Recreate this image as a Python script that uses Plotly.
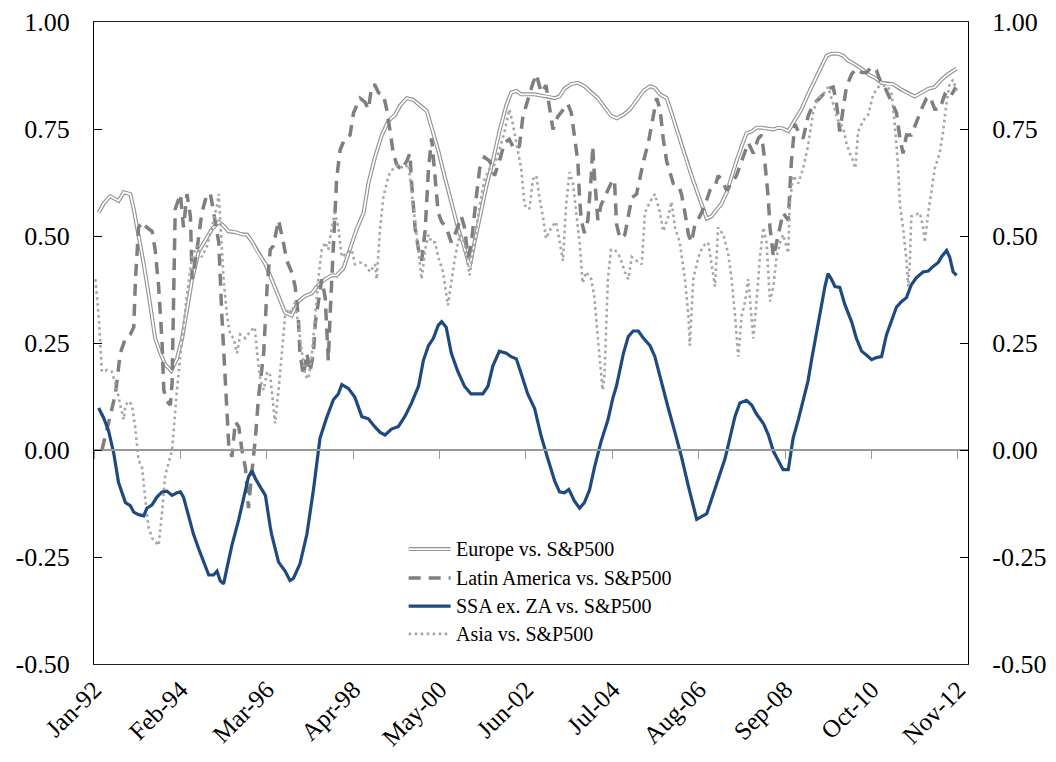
import plotly.graph_objects as go

# ---------------- data (month offsets from Jan-92, correlation values) ----------------
tick_months = [0, 25, 50, 75, 100, 125, 150, 175, 200, 225, 250]
tick_labels = ["Jan-92", "Feb-94", "Mar-96", "Apr-98", "May-00", "Jun-02",
               "Jul-04", "Aug-06", "Sep-08", "Oct-10", "Nov-12"]
y_tick_values = [-0.5, -0.25, 0.0, 0.25, 0.5, 0.75, 1.0]
y_tick_labels = ["-0.50", "-0.25", "0.00", "0.25", "0.50", "0.75", "1.00"]

europe_month = [1.35, 2.8, 4.7, 6.2, 7.1, 8.6, 10.5, 11.5, 12.9, 14.4, 15.8, 17.7, 19.2, 20.6, 22.3, 24, 25.5, 26.9,
                28.4, 30.3, 32.2, 34.1, 36.1, 37.5, 38.9, 40.9, 42.8, 44.3, 45.7, 47.6, 49.6, 51.4, 53.4, 55.3, 57.2,
                59.1, 61.1, 63, 64.9, 66.9, 68.8, 70.2, 72.2, 74.1, 76, 78, 79.4, 81.3, 83.3, 85.2, 87.1, 88.6, 90.5,
                92.4, 94.3, 96.3, 97.7, 99.6, 101.4, 103.4, 105.3, 107.2, 108.7, 110.1, 111.6, 113.5, 115.4, 117.3,
                119.3, 120.7, 122.2, 123.6, 125.5, 127.5, 129.4, 131.3, 133.3, 134.7, 136.1, 138.1, 140, 141.9, 143.9,
                145.8, 147.7, 149.6, 151.2, 153.2, 155.1, 157, 159, 160.9, 162.3, 163.8, 165.7, 167.1, 168.6, 170,
                171.5, 172.9, 174.4, 175.8, 177.3, 178.7, 180.2, 181.6, 183.1, 184.5, 185.9, 187.4, 188.8, 190.3,
                191.7, 193.2, 194.6, 196.6, 198, 199.4, 200.9, 202.8, 204.7, 206.6, 208.6, 210.5, 212, 213.4, 215.3,
                216.8, 218.2, 220.2, 222.1, 224, 225.9, 227.9, 229.8, 231.2, 233.2, 235.1, 237.5, 239.4, 241.4, 243.3,
                245.2, 247.1, 249.6]
europe_value = [0.554, 0.576, 0.593, 0.585, 0.582, 0.602, 0.598, 0.563, 0.503, 0.434, 0.364, 0.261, 0.226, 0.20,
                0.185, 0.213, 0.261, 0.33, 0.399, 0.464, 0.49, 0.516, 0.533, 0.524, 0.511, 0.509, 0.504, 0.503, 0.487,
                0.459, 0.434, 0.399, 0.356, 0.321, 0.314, 0.347, 0.36, 0.366, 0.386, 0.399, 0.408, 0.408, 0.425, 0.472,
                0.516, 0.554, 0.623, 0.684, 0.736, 0.769, 0.783, 0.805, 0.822, 0.818, 0.805, 0.792, 0.753, 0.70, 0.641,
                0.58, 0.52, 0.472, 0.429, 0.485, 0.546, 0.615, 0.675, 0.744, 0.805, 0.835, 0.839, 0.831, 0.831, 0.831,
                0.828, 0.826, 0.822, 0.826, 0.844, 0.855, 0.858, 0.85, 0.835, 0.822, 0.801, 0.781, 0.775, 0.783, 0.796,
                0.818, 0.839, 0.85, 0.846, 0.831, 0.822, 0.788, 0.749, 0.71, 0.675, 0.641, 0.606, 0.576, 0.541, 0.546,
                0.563, 0.576, 0.602, 0.641, 0.675, 0.71, 0.74, 0.744, 0.753, 0.753, 0.751, 0.749, 0.753, 0.751, 0.745,
                0.77, 0.796, 0.831, 0.865, 0.896, 0.921, 0.926, 0.926, 0.921, 0.91, 0.901, 0.891, 0.878, 0.87, 0.858,
                0.855, 0.855, 0.844, 0.835, 0.826, 0.835, 0.844, 0.848, 0.865, 0.878, 0.891]

latam_month = [2.3, 3.8, 4.7, 6.2, 7.6, 9.1, 10.5, 11.5, 12, 12.9, 13.9, 15.3, 16.8, 17.7, 18.7, 19.7, 20.2, 21.1, 22.1,
               22.6, 23.1, 23.5, 25, 25.9, 26.9, 27.9, 28.4, 29.8, 31.2, 32.7, 33.7, 34.6, 36.1, 37, 38, 39, 39.9,
               40.9, 41.9, 42.8, 43.8, 44.7, 45.7, 46.7, 47.6, 49.1, 50.1, 51, 51.9, 53.4, 54.8, 55.8, 57.2, 58.2,
               59.1, 59.6, 60.6, 61.6, 62.5, 63.5, 64, 64.9, 65.9, 66.9, 67.3, 67.8, 68.3, 69.3, 70.2, 71.2, 72.6,
               74.1, 75.1, 77, 78.4, 79.4, 80.4, 81.3, 82.3, 83.7, 84.7, 85.7, 86.6, 87.6, 89, 90.5, 91.4, 91.9, 92.9,
               93.9, 94.8, 95.8, 96.8, 97.7, 98.7, 99.6, 100.6, 101.9, 103.4, 104.8, 106.3, 107.2, 108.2, 109.1,
               110.6, 111.6, 113, 114.5, 115.9, 117.3, 118.8, 120.2, 121.7, 123.1, 124.1, 125.5, 127, 128, 129.4,
               130.8, 131.8, 132.8, 134.2, 135.7, 137.1, 138.1, 139, 140, 140.5, 141, 141.9, 142.9, 143.9, 144.3,
               144.8, 145.8, 146.7, 147.7, 148.7, 149.6, 150.6, 151.2, 152.2, 153.6, 154.6, 155.6, 157, 159, 160.4,
               161.8, 162.8, 163.8, 164.7, 165.7, 166.7, 167.6, 169.1, 170, 171, 172, 172.9, 173.9, 175.3, 176.8,
               178.2, 179.7, 180.6, 181.6, 183.1, 184.5, 185.9, 187.4, 188.4, 189.3, 190.8, 192.2, 193.2, 194.1,
               195.1, 195.6, 196.6, 197.5, 198.5, 199.4, 200.9, 201.8, 202.8, 203.8, 205.2, 206.6, 208.1, 209.5, 211,
               212.4, 213.9, 214.8, 215.8, 216.8, 217.7, 219.2, 220.6, 222.1, 223.5, 225, 226.4, 227.4, 228.8, 230.8,
               232.2, 233.2, 234.1, 235.1, 236.5, 238, 239.4, 240.9, 241.9, 243.3, 244.7, 246.2, 247.6, 249.1, 249.6]
latam_value = [0.0, 0.054, 0.08, 0.131, 0.226, 0.261, 0.27, 0.287, 0.399, 0.52, 0.533, 0.52, 0.511, 0.468, 0.382, 0.252,
               0.14, 0.114, 0.105, 0.157, 0.382, 0.563, 0.598, 0.52, 0.598, 0.546, 0.399, 0.468, 0.554, 0.598, 0.598,
               0.554, 0.485, 0.313, 0.14, 0.01, -0.016, 0.066, 0.054, 0.0, -0.041, -0.136, -0.05, 0.028, 0.123, 0.226,
               0.382, 0.468, 0.477, 0.537, 0.485, 0.442, 0.416, 0.382, 0.313, 0.226, 0.174, 0.226, 0.183, 0.226,
               0.295, 0.347, 0.399, 0.356, 0.287, 0.209, 0.313, 0.485, 0.632, 0.701, 0.728, 0.736, 0.788, 0.822,
               0.813, 0.796, 0.852, 0.852, 0.835, 0.831, 0.796, 0.744, 0.693, 0.667, 0.654, 0.675, 0.693, 0.623, 0.52,
               0.468, 0.442, 0.511, 0.658, 0.728, 0.623, 0.554, 0.533, 0.52, 0.485, 0.511, 0.546, 0.52, 0.451, 0.477,
               0.589, 0.658, 0.684, 0.675, 0.641, 0.675, 0.718, 0.726, 0.701, 0.71, 0.779, 0.818, 0.857, 0.878, 0.835,
               0.852, 0.805, 0.749, 0.779, 0.796, 0.809, 0.788, 0.728, 0.675, 0.589, 0.537, 0.507, 0.537, 0.641,
               0.71, 0.641, 0.537, 0.572, 0.589, 0.606, 0.623, 0.632, 0.528, 0.494, 0.503, 0.546, 0.589, 0.598, 0.675,
               0.718, 0.779, 0.822, 0.796, 0.728, 0.675, 0.645, 0.623, 0.619, 0.598, 0.554, 0.503, 0.485, 0.528,
               0.546, 0.572, 0.606, 0.615, 0.641, 0.632, 0.606, 0.623, 0.641, 0.675, 0.701, 0.718, 0.693, 0.728,
               0.736, 0.675, 0.589, 0.52, 0.451, 0.485, 0.52, 0.554, 0.537, 0.675, 0.762, 0.744, 0.728, 0.779, 0.809,
               0.818, 0.831, 0.844, 0.848, 0.813, 0.744, 0.796, 0.848, 0.878, 0.891, 0.882, 0.882, 0.895, 0.887,
               0.865, 0.848, 0.813, 0.788, 0.728, 0.693, 0.736, 0.736, 0.766, 0.796, 0.822, 0.826, 0.796, 0.796,
               0.831, 0.822, 0.844, 0.84]

ssa_month = [1.35, 2.8, 4.2, 5.7, 7.1, 9.1, 10.5, 11.5, 12.9, 14.4, 15.3, 16.8, 18.2, 19.7, 21.1, 22.6, 24, 25, 25.9,
             27.4, 28.8, 30.3, 31.7, 33.2, 34.6, 35.6, 36.5, 37.5, 38.5, 39.9, 41.9, 43.3, 44.7, 45.7, 46.7, 48.1,
             49.6, 51, 51.4, 53.4, 55.3, 56.7, 57.7, 59.6, 61.6, 63.5, 65.4, 67.3, 69.3, 70.7, 71.7, 73.6, 75.5, 77.5,
             79.4, 81.3, 82.8, 84.2, 86.1, 88.1, 90, 91.9, 93.9, 95.3, 96.8, 98.2, 99.6, 100.6, 101.9, 103.4, 105.3,
             107.2, 109.1, 111.1, 112.5, 114, 115.4, 117.3, 119.3, 120.7, 122.2, 123.6, 125.5, 127.5, 129.4, 131.3,
             133.3, 134.7, 136.1, 137.4, 139, 140.5, 141.9, 143.4, 144.8, 146.7, 148.7, 150.1, 151.2, 153.2, 154.6,
             156, 157.5, 159, 160.9, 162.3, 164.2, 166.2, 168.1, 170, 172, 174.4, 177.3, 179.2, 181.1, 182.6, 184,
             185.5, 186.9, 188.8, 190.3, 191.7, 193.7, 195.1, 196.6, 198, 199.4, 200.9, 202.3, 203.8, 205.2, 206.6,
             207.6, 209.1, 210.5, 211.5, 212.4, 213.4, 214.4, 215.8, 217.3, 219.2, 220.6, 222.1, 223.5, 225, 226.4,
             227.9, 229.3, 230.8, 232.2, 233.7, 235.1, 236.5, 238, 239.9, 241.4, 242.8, 244.3, 245.2, 246.7, 247.6,
             248.6, 249.6]
ssa_value = [0.098, 0.075, 0.045, -0.007, -0.076, -0.123, -0.13, -0.145, -0.151, -0.154, -0.136, -0.128, -0.11, -0.098,
             -0.096, -0.106, -0.1, -0.098, -0.11, -0.158, -0.197, -0.231, -0.262, -0.292, -0.292, -0.283, -0.305,
             -0.313, -0.275, -0.223, -0.162, -0.11, -0.063, -0.048, -0.067, -0.086, -0.106, -0.18, -0.197, -0.262,
             -0.283, -0.305, -0.30, -0.266, -0.197, -0.093, 0.028, 0.075, 0.118, 0.131, 0.153, 0.144, 0.123, 0.078,
             0.073, 0.054, 0.041, 0.035, 0.049, 0.055, 0.079, 0.11, 0.149, 0.209, 0.244, 0.261, 0.291, 0.30, 0.287,
             0.226, 0.183, 0.149, 0.131, 0.131, 0.131, 0.149, 0.196, 0.231, 0.226, 0.218, 0.213, 0.179, 0.131, 0.097,
             0.032, -0.02, -0.072, -0.098, -0.10, -0.092, -0.119, -0.136, -0.123, -0.093, -0.041, 0.019, 0.07, 0.12,
             0.15, 0.226, 0.265, 0.278, 0.278, 0.261, 0.244, 0.218, 0.157, 0.097, 0.041, -0.016, -0.085, -0.162,
             -0.149, -0.102, -0.059, -0.02, 0.028, 0.079, 0.11, 0.116, 0.105, 0.084, 0.062, 0.036, -0.003, -0.024,
             -0.046, -0.046, 0.028, 0.071, 0.114, 0.161, 0.209, 0.278, 0.339, 0.382, 0.412, 0.399, 0.382, 0.38, 0.339,
             0.30, 0.261, 0.231, 0.222, 0.211, 0.216, 0.218, 0.269, 0.30, 0.334, 0.347, 0.356, 0.386, 0.403, 0.416,
             0.418, 0.429, 0.438, 0.451, 0.466, 0.451, 0.416, 0.408]

asia_month = [0.4, 1.35, 2.3, 3.8, 5.2, 6.7, 7.6, 8.6, 9.1, 10.1, 11, 11.9, 12.9, 13.9, 14.9, 15.8, 16.8, 17.7, 18.7,
              19.7, 20.6, 22.6, 24, 25.5, 26.9, 28.4, 29.8, 31.2, 32.7, 34.1, 35.6, 36.1, 36.6, 37.5, 38.5, 39.4, 40.4,
              41.4, 42.3, 43.8, 45.2, 46.5, 47.2, 48.1, 49.1, 50.1, 51, 52.4, 53.4, 54.3, 55.3, 56.3, 57.2, 58.2,
              59.1, 60.1, 61.1, 62, 63, 64, 64.9, 65.9, 66.9, 67.8, 68.8, 69.7, 70.7, 71.7, 73.1, 74.6, 75.5, 77,
              78.4, 79.9, 81.3, 81.8, 82.8, 83.7, 85.2, 86.6, 88.1, 89.5, 91, 91.9, 92.9, 93.9, 94.8, 95.8, 96.8,
              97.7, 98.7, 99.6, 101, 102.4, 103.4, 104.3, 105.8, 107.2, 108.7, 110.1, 111.6, 113, 114.5, 115.9, 117.3,
              118.8, 120.2, 121.2, 122.6, 123.6, 124.6, 126, 127, 128, 128.9, 129.9, 130.8, 132.3, 133.7, 134.7,
              135.7, 136.6, 137.6, 138.6, 139.5, 140.5, 141.4, 142.4, 143.9, 144.8, 145.8, 146.7, 147.2, 147.7, 148.7,
              149.6, 150.7, 152.2, 153.6, 154.6, 155.6, 157, 158.5, 159.4, 160.9, 162.3, 163.8, 164.7, 166.2, 167.1,
              168.1, 169.5, 171, 172, 172.4, 173.4, 174.9, 176.3, 177.7, 178.7, 179.7, 180.6, 182.1, 183.5, 184.5,
              185.5, 186.4, 187.4, 188.4, 189.3, 190.3, 190.8, 191.7, 192.7, 193.7, 194.6, 195.6, 196.6, 197.5, 198.5,
              199.4, 200.9, 201.3, 202.3, 203.8, 205.2, 206.6, 208.1, 209.5, 211, 212.4, 213.9, 215.3, 216.8, 217.7,
              218.7, 219.7, 220.3, 221.1, 222.6, 224, 225.5, 226.9, 228.3, 229.8, 230.8, 231.7, 232.7, 233.2, 234.1,
              234.6, 235.1, 235.6, 236.1, 236.5, 238, 239, 239.9, 240.4, 241.4, 242.3, 243.3, 244.7, 245.7, 246.7,
              247.6, 248.6, 249.6]
asia_value = [0.399, 0.313, 0.183, 0.187, 0.183, 0.14, 0.105, 0.071, 0.105, 0.114, 0.105, 0.054, -0.024, -0.041, -0.119,
              -0.18, -0.206, -0.214, -0.223, -0.145, -0.059, 0.0, 0.14, 0.261, 0.364, 0.451, 0.477, 0.451, 0.477, 0.52,
              0.572, 0.598, 0.52, 0.399, 0.313, 0.27, 0.261, 0.226, 0.27, 0.261, 0.278, 0.287, 0.226, 0.166, 0.14,
              0.183, 0.174, 0.062, 0.14, 0.226, 0.313, 0.33, 0.321, 0.347, 0.295, 0.244, 0.174, 0.166, 0.218, 0.313,
              0.399, 0.468, 0.485, 0.468, 0.52, 0.554, 0.52, 0.451, 0.459, 0.468, 0.434, 0.438, 0.434, 0.416, 0.434,
              0.399, 0.52, 0.589, 0.641, 0.658, 0.667, 0.658, 0.667, 0.606, 0.528, 0.468, 0.399, 0.468, 0.503, 0.485,
              0.485, 0.451, 0.416, 0.338, 0.399, 0.442, 0.503, 0.485, 0.408, 0.485, 0.572, 0.632, 0.658, 0.667, 0.701,
              0.744, 0.796, 0.762, 0.701, 0.658, 0.572, 0.563, 0.632, 0.641, 0.589, 0.546, 0.494, 0.52, 0.533, 0.485,
              0.442, 0.572, 0.649, 0.623, 0.554, 0.485, 0.39, 0.416, 0.399, 0.356, 0.261, 0.183, 0.14, 0.174, 0.399,
              0.468, 0.468, 0.451, 0.416, 0.399, 0.451, 0.442, 0.434, 0.554, 0.58, 0.598, 0.554, 0.511, 0.546, 0.58,
              0.52, 0.485, 0.399, 0.313, 0.244, 0.399, 0.451, 0.477, 0.485, 0.434, 0.382, 0.52, 0.503, 0.459, 0.399,
              0.313, 0.218, 0.313, 0.347, 0.399, 0.295, 0.261, 0.347, 0.451, 0.52, 0.485, 0.347, 0.382, 0.451, 0.485,
              0.503, 0.46, 0.572, 0.641, 0.623, 0.658, 0.71, 0.79, 0.822, 0.831, 0.848, 0.805, 0.77, 0.753, 0.718,
              0.693, 0.675, 0.658, 0.744, 0.77, 0.783, 0.831, 0.848, 0.852, 0.848, 0.831, 0.762, 0.658, 0.572, 0.52,
              0.485, 0.442, 0.382, 0.442, 0.546, 0.55, 0.554, 0.52, 0.485, 0.554, 0.606, 0.658, 0.693, 0.744, 0.813,
              0.856, 0.865, 0.839]

series_names = ["Europe vs. S&P500", "Latin America vs. S&P500", "SSA ex. ZA vs. S&P500", "Asia vs. S&P500"]

# ---------------- styles ----------------
FONT = "Liberation Serif, Times New Roman, serif"
EU_OUT, EU_IN = "#939393", "#ffffff"
LA_COL = "#7f7f7f"
SSA_COL = "#1f4a80"
AS_COL = "#a6a6a6"
X_RANGE = [0, 252.9]
Y_RANGE = [-0.5, 1.0]

fig = go.Figure()
fig.add_trace(go.Scatter(x=europe_month, y=europe_value, mode="lines", name=series_names[0],
                         line=dict(color=EU_OUT, width=4.0), showlegend=False, hoverinfo="skip"))
fig.add_trace(go.Scatter(x=europe_month, y=europe_value, mode="lines", name=series_names[0],
                         line=dict(color=EU_IN, width=1.7), showlegend=False))
fig.add_trace(go.Scatter(x=latam_month, y=latam_value, mode="lines", name=series_names[1],
                         line=dict(color=LA_COL, width=3.5, dash="12px,8px"), showlegend=False))
fig.add_trace(go.Scatter(x=ssa_month, y=ssa_value, mode="lines", name=series_names[2], xaxis="x2",
                         line=dict(color=SSA_COL, width=3.2), showlegend=False))
fig.add_trace(go.Scatter(x=asia_month, y=asia_value, mode="lines", name=series_names[3], yaxis="y2",
                         line=dict(color=AS_COL, width=2.6, dash="2.6px,3.4px"), showlegend=False))

# custom legend (Europe needs a double line sample)
leg_rows = [0.179, 0.134, 0.090, 0.047]
lx0, lx1, ltx = 0.360, 0.408, 0.412
shapes = [
    dict(type="line", xref="paper", yref="paper", x0=lx0, x1=lx1, y0=leg_rows[0], y1=leg_rows[0],
         line=dict(color=EU_OUT, width=4.0)),
    dict(type="line", xref="paper", yref="paper", x0=lx0, x1=lx1, y0=leg_rows[0], y1=leg_rows[0],
         line=dict(color=EU_IN, width=1.7)),
    dict(type="line", xref="paper", yref="paper", x0=lx0, x1=lx1, y0=leg_rows[1], y1=leg_rows[1],
         line=dict(color=LA_COL, width=3.5, dash="12px,8px")),
    dict(type="line", xref="paper", yref="paper", x0=lx0, x1=lx1, y0=leg_rows[2], y1=leg_rows[2],
         line=dict(color=SSA_COL, width=3.2)),
    dict(type="line", xref="paper", yref="paper", x0=lx0, x1=lx1, y0=leg_rows[3], y1=leg_rows[3],
         line=dict(color=AS_COL, width=2.6, dash="2.6px,3.4px")),
]
annotations = [dict(xref="paper", yref="paper", x=ltx, y=yy, text=nm, showarrow=False,
                    xanchor="left", yanchor="middle", font=dict(family=FONT, size=20, color="black"))
               for nm, yy in zip(series_names, leg_rows)]

yaxis_common = dict(range=Y_RANGE, tickmode="array", tickvals=y_tick_values, ticktext=y_tick_labels,
                    showgrid=False, zeroline=False, showline=True, linecolor="black", linewidth=1.3,
                    ticks="inside", ticklen=8, tickcolor="black", ticklabelstandoff=18, automargin=False,
                    tickfont=dict(family=FONT, size=26))

fig.update_layout(
    width=1040, height=746,
    margin=dict(l=86, r=80, t=14, b=90, autoexpand=False),
    paper_bgcolor="white", plot_bgcolor="white",
    font=dict(family=FONT, size=25, color="black"),
    shapes=shapes, annotations=annotations,
    xaxis=dict(range=X_RANGE, tickmode="array", tickvals=tick_months, ticktext=tick_labels,
               tickangle=-45, ticks="", showgrid=False, zeroline=False, automargin=False,
               showline=True, mirror=True, linecolor="#222", linewidth=1.3,
               tickfont=dict(family=FONT, size=25)),
    xaxis2=dict(range=X_RANGE, overlaying="x", anchor="free", position=1/3, automargin=False,
                tickmode="array", tickvals=tick_months, showticklabels=False,
                ticks="outside", ticklen=8, tickcolor="#999", tickwidth=1.3,
                showline=True, linecolor="#999", linewidth=1.5, showgrid=False, zeroline=False),
    yaxis=dict(**yaxis_common),
    yaxis2=dict(**yaxis_common, overlaying="y", side="right", anchor="x"),
)

fig.write_html("out.html")
